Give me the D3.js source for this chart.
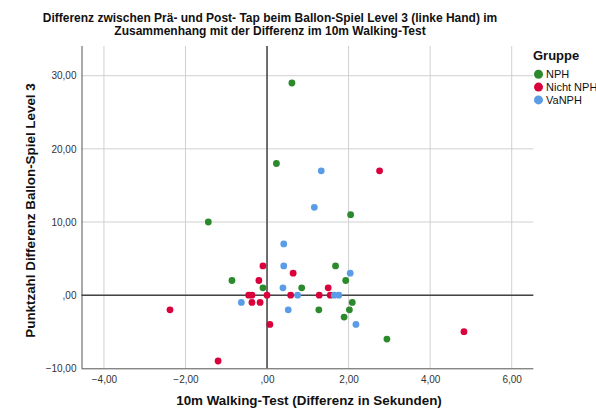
<!DOCTYPE html>
<html>
<head>
<meta charset="utf-8">
<script src="https://cdn.jsdelivr.net/npm/d3@7"></script>
<style>
  html, body { margin: 0; padding: 0; background: #fff; }
  svg { display: block; font-family: "Liberation Sans", Arial, sans-serif; }
</style>
</head>
<body>
<svg id="chart" width="596" height="414"></svg>
<script>
// ---- Data ----
const groups = ["NPH", "Nicht NPH", "VaNPH"];
const groupColors = ["#2b8a2b", "#d9003c", "#5b9ce6"];

const nphX = [0.61, 0.23, 2.05, -1.44, 1.68, -0.86, 1.93, -0.10, 0.85, 1.27, 2.02, 2.09, 1.89, 2.94];
const nphY = [29, 18, 11, 10, 4, 2, 2, 1, 1, -2, -2, -1, -3, -6];

const nichtX = [2.76, -0.10, 0.64, -0.20, 1.50, -0.45, -0.37, 0.00, 0.58, 1.28, 1.55, -0.37, -0.17, -2.38, 0.07, 4.83, -1.20];
const nichtY = [17, 4, 3, 2, 1, 0, 0, 0, 0, 0, 0, -1, -1, -2, -4, -5, -9];

const vaX = [1.33, 1.16, 0.41, 0.41, 2.04, 0.39, 0.75, 1.65, 1.76, -0.63, 0.52, 2.18];
const vaY = [17, 12, 7, 4, 3, 1, 0, 0, 0, -1, -2, -4];

const xTicks = [-4, -2, 0, 2, 4, 6];
const yTicks = [-10, 0, 10, 20, 30];

const titleLines = [
  "Differenz zwischen Prä- und Post- Tap beim Ballon-Spiel Level 3 (linke Hand) im",
  "Zusammenhang mit der Differenz im 10m Walking-Test"
];
const xTitle = "10m Walking-Test (Differenz in Sekunden)";
const yTitle = "Punktzahl Differenz Ballon-Spiel Level 3";
const legendTitle = "Gruppe";

// ---- Layout ----
const svg = d3.select("#chart");
const pL = 81.5, pR = 533.3, pT = 46, pB = 368.3;

const x = d3.scaleLinear().domain([-4.55, 6.53]).range([pL, pR]);
const y = d3.scaleLinear().domain([-10, 34.06]).range([pB, pT]);

const fmt = v => {
  if (v === 0) return ",00";
  return d3.format(".2f")(v).replace(".", ",").replace("-", "\u2212");
};

// gridlines
const g = svg.append("g");
g.selectAll("line.vg").data(xTicks).join("line")
  .attr("x1", d => x(d)).attr("x2", d => x(d))
  .attr("y1", pT).attr("y2", pB)
  .attr("stroke", "#d0d0d0").attr("stroke-width", 1);
g.selectAll("line.hg").data(yTicks.filter(d => d !== -10)).join("line")
  .attr("x1", pL).attr("x2", pR)
  .attr("y1", d => y(d)).attr("y2", d => y(d))
  .attr("stroke", "#d0d0d0").attr("stroke-width", 1);

// axes
const xAxis = d3.axisBottom(x).tickValues(xTicks).tickFormat(fmt).tickSize(0).tickPadding(8);
const yAxis = d3.axisLeft(y).tickValues(yTicks).tickFormat(fmt).tickSize(0).tickPadding(5);

const gx = svg.append("g").attr("transform", `translate(0,${pB})`).call(xAxis);
const gy = svg.append("g").attr("transform", `translate(${pL},0)`).call(yAxis);
[gx, gy].forEach(a => {
  a.select(".domain").attr("stroke", "#555").attr("stroke-width", 1);
  a.selectAll("text").attr("fill", "#333").style("font-size", "10px")
    .style("font-family", "'Liberation Sans', Arial, sans-serif");
});
gx.select(".domain").attr("d", `M${pL},0.5H${pR}`);
gy.select(".domain").attr("d", `M0.5,${pT}V${pB}`);

// reference lines at 0
svg.append("line").attr("x1", x(0)).attr("x2", x(0)).attr("y1", pT).attr("y2", pB)
  .attr("stroke", "#444").attr("stroke-width", 1.5);
svg.append("line").attr("x1", pL).attr("x2", pR).attr("y1", y(0)).attr("y2", y(0))
  .attr("stroke", "#444").attr("stroke-width", 1.5);

// points
const series = [
  {xs: nphX, ys: nphY},
  {xs: nichtX, ys: nichtY},
  {xs: vaX, ys: vaY}
];
series.forEach((s, i) => {
  const pts = s.xs.map((v, j) => [v, s.ys[j]]);
  svg.append("g").selectAll("circle").data(pts).join("circle")
    .attr("cx", d => x(d[0])).attr("cy", d => y(d[1]))
    .attr("r", 3.4)
    .attr("fill", groupColors[i]);
});

// title
svg.append("g").selectAll("text").data(titleLines).join("text")
  .attr("x", 270).attr("y", (d, i) => 22 + i * 12.5)
  .attr("text-anchor", "middle")
  .style("font-size", "12px").style("font-weight", "bold").attr("fill", "#111")
  .text(d => d);

// axis titles
svg.append("text").attr("x", 309).attr("y", 405).attr("text-anchor", "middle")
  .style("font-size", "13.4px").style("font-weight", "bold").attr("fill", "#111")
  .text(xTitle);
svg.append("text").attr("transform", "translate(35,210.5) rotate(-90)")
  .attr("text-anchor", "middle")
  .style("font-size", "13.4px").style("font-weight", "bold").attr("fill", "#111")
  .text(yTitle);

// legend
svg.append("text").attr("x", 533).attr("y", 60)
  .style("font-size", "13px").style("font-weight", "bold").attr("fill", "#111")
  .text(legendTitle);
const lg = svg.append("g").selectAll("g").data(groups).join("g")
  .attr("transform", (d, i) => `translate(538.5,${74.3 + i * 12.8})`);
lg.append("circle").attr("r", 4.5).attr("fill", (d, i) => groupColors[i]);
lg.append("text").attr("x", 7.5).attr("y", 4)
  .style("font-size", "11px").attr("fill", "#111").text(d => d);
</script>
</body>
</html>
